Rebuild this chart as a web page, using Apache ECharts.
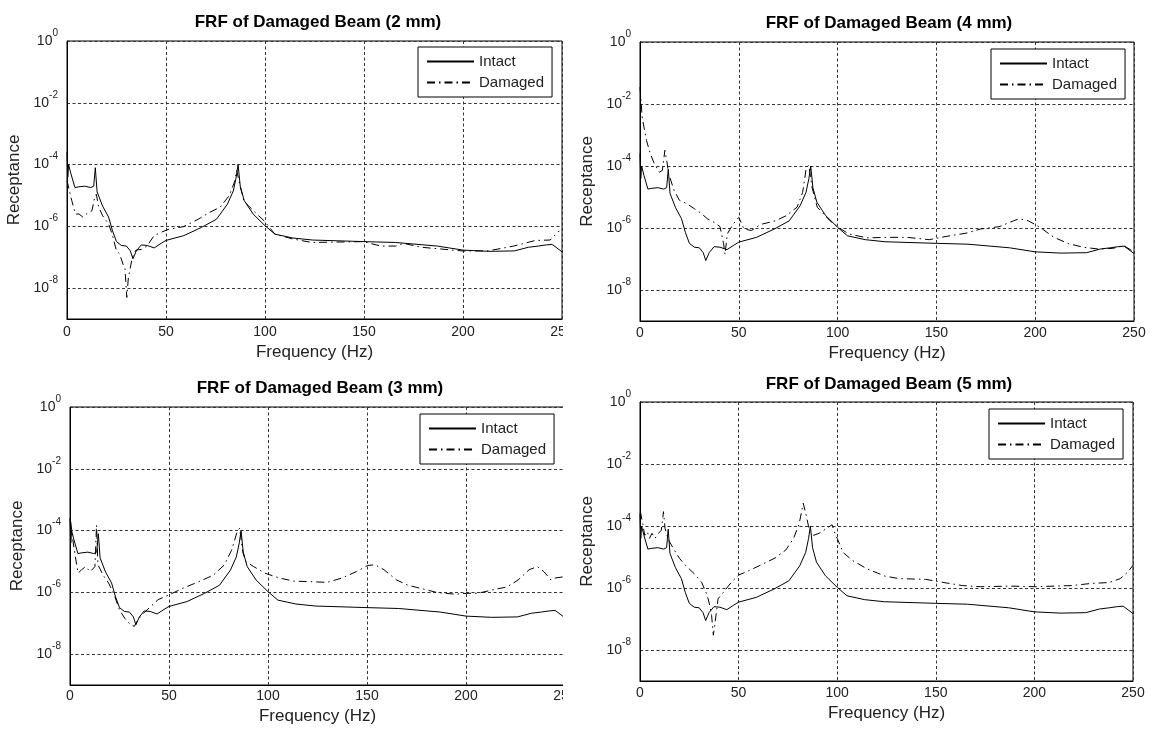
<!DOCTYPE html>
<html><head><meta charset="utf-8">
<script src="https://cdn.jsdelivr.net/npm/echarts@6/dist/echarts.min.js"></script>
<style>
html,body{margin:0;padding:0;background:#fff;width:1154px;height:731px;overflow:hidden;}
.p{position:absolute;overflow:hidden;}
</style></head><body>
<div id="c0" class="p" style="left:0;top:0;width:563px;height:365px"></div>
<div id="c1" class="p" style="left:577px;top:0;width:577px;height:365px"></div>
<div id="c2" class="p" style="left:0;top:365px;width:563px;height:366px"></div>
<div id="c3" class="p" style="left:577px;top:365px;width:577px;height:366px"></div>
<script>
// ---------- data (frequency Hz, receptance) ----------
const titles = ['FRF of Damaged Beam (2 mm)', 'FRF of Damaged Beam (4 mm)', 'FRF of Damaged Beam (3 mm)', 'FRF of Damaged Beam (5 mm)'];
const seriesNames = ['Intact', 'Damaged'];

const intact = [
[0,2.5e-4],[0.4,4.0e-5],[0.8,1.0e-4],[2,5.0e-5],[4,1.8e-5],[6,1.9e-5],[9,2.0e-5],[12,1.8e-5],[13.5,2.0e-5],[14.3,7.9e-5],[15.2,1.3e-5],[18,4.5e-6],[21,2.0e-6],[23,7.1e-7],[25,3.2e-7],[27.5,2.4e-7],[30,2.3e-7],[32,1.6e-7],[33.3,8.9e-8],[35,1.6e-7],[37.5,2.5e-7],[40.5,2.4e-7],[44,2.0e-7],[47.5,2.8e-7],[50,3.5e-7],[59,5.0e-7],[68,9.3e-7],[75.5,1.7e-6],[81,5.2e-6],[84,1.4e-5],[85.5,4.0e-5],[86.4,1.0e-4],[87.5,2.0e-5],[89.5,6.8e-6],[94,2.5e-6],[100,1.05e-6],[105,5.6e-7],[114,4.2e-7],[124,3.6e-7],[150,3.2e-7],[166,3.0e-7],[187,2.3e-7],[200,1.7e-7],[213,1.55e-7],[226,1.6e-7],[233,2.1e-7],[238,2.3e-7],[242,2.5e-7],[245,2.6e-7],[250,1.5e-7]
];

const damaged2mm = [
[0,3.0e-5],[2.4,6.8e-6],[4.3,2.5e-6],[6.1,2.5e-6],[8,2.0e-6],[10.7,2.8e-6],[12.6,3.2e-6],[14,8.7e-6],[14.8,1.1e-5],[16,4.2e-6],[18,2.2e-6],[21,1.2e-6],[22.8,5.6e-7],[25,1.6e-7],[26.5,1.3e-7],[28.3,6.0e-8],[29.3,4.2e-8],[30.2,5.0e-9],[31,2.2e-8],[33,1.0e-7],[34.8,1.7e-7],[37.6,1.8e-7],[40.4,2.3e-7],[44,5.0e-7],[47.8,6.5e-7],[51.5,8.1e-7],[58.9,9.8e-7],[66.3,1.7e-6],[71.9,2.8e-6],[77.4,4.2e-6],[82,1.0e-5],[84.8,3.0e-5],[85.7,6.5e-5],[86.7,6.5e-5],[87.6,1.8e-5],[89.5,6.3e-6],[95.9,2.5e-6],[99.6,1.5e-6],[105,5.6e-7],[114,3.9e-7],[123.7,3.0e-7],[149.6,3.2e-7],[158.5,2.3e-7],[166,2.3e-7],[170,2.8e-7],[179,2.1e-7],[199.6,1.6e-7],[212.6,1.6e-7],[225.6,2.3e-7],[236.7,3.5e-7],[244,3.6e-7],[247,5.6e-7],[248.7,7.2e-7]
];

const damaged4mm = [
[0,3.5e-2],[1.1,3.8e-3],[2,1.8e-3],[3.3,6.6e-4],[5.2,2.5e-4],[7,1.3e-4],[9.8,6.3e-5],[11.3,7.2e-5],[12.6,3.2e-4],[13.6,1.4e-4],[14.5,5.6e-5],[17.3,1.6e-5],[20,7.8e-6],[23.8,6.0e-6],[27.5,4.2e-6],[31.2,2.9e-6],[34,2.0e-6],[37.7,1.5e-6],[40.5,1.1e-6],[42.3,3.1e-7],[43,1.4e-7],[44.2,6.5e-7],[47,1.3e-6],[50,2.2e-6],[52.6,9.3e-7],[56.4,8.3e-7],[61,1.3e-6],[68.5,1.7e-6],[74,2.5e-6],[79.5,4.7e-6],[82.3,1.4e-5],[84.2,9.1e-5],[85.5,1.05e-4],[87,2.1e-5],[89.7,4.7e-6],[96.2,1.7e-6],[100,1.1e-6],[105.5,6.5e-7],[114.8,4.8e-7],[126,5.0e-7],[135,5.0e-7],[146.4,4.2e-7],[153.8,5.2e-7],[165,6.8e-7],[172.4,9.3e-7],[181.7,1.1e-6],[189,1.7e-6],[192,2.0e-6],[196.5,1.7e-6],[202,1.1e-6],[209.5,5.0e-7],[217,3.1e-7],[224.4,2.4e-7],[231.8,2.1e-7],[239.2,2.2e-7],[244.8,2.7e-7],[250,1.7e-7]
];

const damaged3mm = [
[0.4,1.9e-4],[1.3,5.6e-5],[2.8,1.3e-5],[4.1,4.2e-6],[5.9,5.4e-6],[7.8,6.8e-6],[10.2,4.7e-6],[12.6,6.8e-6],[13.4,1.5e-4],[14.1,7.9e-6],[16.7,3.6e-6],[19.5,2.0e-6],[22.3,8.3e-7],[25,2.7e-7],[27.8,1.4e-7],[30.6,8.9e-8],[32.5,7.9e-8],[34.3,1.3e-7],[37.1,2.1e-7],[40.8,3.5e-7],[44.5,5.8e-7],[50,8.3e-7],[57.5,1.4e-6],[65,2.2e-6],[72.4,3.6e-6],[78,7.8e-6],[81.6,2.3e-5],[84.4,9.1e-5],[85.7,1.2e-4],[87.2,2.1e-5],[88.7,1.0e-5],[92.8,6.8e-6],[98.3,4.2e-6],[105.8,2.9e-6],[113.2,2.3e-6],[122.4,2.2e-6],[129.9,2.1e-6],[137.3,2.9e-6],[144.7,4.7e-6],[150.3,7.4e-6],[154,7.8e-6],[158.6,5.4e-6],[165,2.5e-6],[170.7,1.7e-6],[178,1.3e-6],[185.5,9.8e-7],[194.8,8.7e-7],[200.4,9.3e-7],[206,9.3e-7],[213.4,1.2e-6],[220.8,1.5e-6],[226.3,2.5e-6],[231.9,5.4e-6],[236,6.8e-6],[239.3,4.7e-6],[243,2.5e-6],[244.9,2.9e-6],[249.5,3.2e-6]
];

const damaged5mm = [
[0.2,2.9e-4],[1.5,1.1e-4],[2.4,5.0e-5],[3.7,6.5e-5],[4.8,4.0e-5],[6.1,5.8e-5],[7.6,4.0e-5],[9.3,5.8e-5],[10.8,7.2e-5],[11.9,2.9e-4],[12.7,8.3e-5],[14.5,3.5e-5],[17.3,1.7e-5],[20.1,8.9e-6],[23.8,4.8e-6],[27.5,2.9e-6],[31.3,1.5e-6],[34.1,5.8e-7],[35.4,2.7e-7],[36.3,1.3e-7],[37.2,3.0e-8],[38.3,1.0e-7],[39.6,4.5e-7],[42.4,7.4e-7],[46.2,1.5e-6],[50,2.6e-6],[55.5,3.7e-6],[61,5.4e-6],[68.5,9.3e-6],[74,1.7e-5],[77.8,3.9e-5],[80.6,1.1e-4],[82.8,5.4e-4],[84.3,2.2e-4],[86.2,5.8e-5],[88,5.0e-5],[90.8,5.8e-5],[94.6,8.3e-5],[97.4,1.1e-4],[99.2,5.0e-5],[100,4.0e-5],[103,1.4e-5],[107.6,7.8e-6],[115,4.2e-6],[124.3,2.4e-6],[131.8,2.0e-6],[144.8,1.9e-6],[154.1,1.5e-6],[163.4,1.2e-6],[172.7,1.1e-6],[187.6,1.15e-6],[200.7,1.1e-6],[210,1.15e-6],[219.3,1.2e-6],[228.6,1.4e-6],[237.9,1.5e-6],[243.5,2.0e-6],[247.2,3.2e-6],[250,5.4e-6]
];

const damagedSets = [damaged2mm, damaged4mm, damaged3mm, damaged5mm];

// ---------- layout ----------
const FONT = "'Liberation Sans', Arial, sans-serif";
const layouts = [
  {grid:{left:67, top:41, width:495, height:278}, titleX:313, titleTop:9, legend:{left:418, top:47}, yNameGap:41, xNameGap:20, xLabelMargin:6},
  {grid:{left:63, top:42, width:494, height:279}, titleX:307, titleTop:10, legend:{left:414, top:49}, yNameGap:41, xNameGap:18, xLabelMargin:5},
  {grid:{left:70, top:42, width:495, height:278}, titleX:315, titleTop:10, legend:{left:420, top:49}, yNameGap:33, xNameGap:14, xLabelMargin:4},
  {grid:{left:63, top:37, width:493, height:279}, titleX:307, titleTop:6, legend:{left:412, top:44}, yNameGap:35, xNameGap:19, xLabelMargin:5}
];

function buildOption(i) {
  const L = layouts[i];
  const gridDash = [3, 2.5];
  const gridColor = '#333';
  return {
    animation: false,
    backgroundColor: '#fff',
    title: {
      text: titles[i], left: L.titleX, top: L.titleTop, textAlign: 'center',
      textStyle: {fontFamily: FONT, fontSize: 17, fontWeight: 'bold', color: '#000'}
    },
    legend: {
      left: L.legend.left, top: L.legend.top, orient: 'vertical',
      data: seriesNames, selectedMode: false,
      itemWidth: 47, itemHeight: 14, itemGap: 6,
      padding: [7, 8, 7, 8],
      borderColor: '#000', borderWidth: 1, backgroundColor: '#fff',
      itemStyle: {color: 'rgba(0,0,0,0)', borderWidth: 0, opacity: 0},
      textStyle: {fontFamily: FONT, fontSize: 15, color: '#222'}
    },
    grid: Object.assign({show: true, borderColor: '#000', borderWidth: 1, backgroundColor: '#fff', containLabel: false, outerBoundsMode: 'none'}, L.grid),
    xAxis: {
      type: 'value', min: 0, max: 250, interval: 50,
      name: 'Frequency (Hz)', nameLocation: 'middle', nameGap: L.xNameGap,
      nameTextStyle: {fontFamily: FONT, fontSize: 17, color: '#222'},
      axisLine: {show: true, lineStyle: {color: '#000', width: 1}},
      axisTick: {show: false},
      axisLabel: {margin: L.xLabelMargin, fontFamily: FONT, fontSize: 14, color: '#222', hideOverlap: false},
      splitLine: {show: true, lineStyle: {color: gridColor, width: 1, type: gridDash}}
    },
    yAxis: {
      type: 'log', logBase: 10, min: 1e-9, max: 1, interval: 1,
      name: 'Receptance', nameLocation: 'middle', nameGap: L.yNameGap,
      nameTextStyle: {fontFamily: FONT, fontSize: 17, color: '#222'},
      axisLine: {show: true, lineStyle: {color: '#000', width: 1}},
      axisTick: {show: false},
      // grid lines only at even decades: colours cycle over the decade ticks 1e-9, 1e-8, ...
      splitLine: {show: true, lineStyle: {color: ['rgba(0,0,0,0)', gridColor], width: 1, type: gridDash}},
      axisLabel: {
        margin: 9,
        formatter: function (v) {
          const e = Math.round(Math.log10(v));
          if (e % 2 !== 0) return '';
          return '{b|10}{s|' + e + '}';
        },
        rich: {
          b: {fontFamily: FONT, fontSize: 14, color: '#222'},
          s: {fontFamily: FONT, fontSize: 10, color: '#222', padding: [0, 0, 16, 0]}
        }
      }
    },
    series: [
      {
        name: seriesNames[0], type: 'line', data: intact, symbol: 'none', clip: true,
        lineStyle: {color: '#000', width: 1}, itemStyle: {color: '#000'}, z: 3
      },
      {
        name: seriesNames[1], type: 'line', data: damagedSets[i], symbol: 'none', clip: true,
        lineStyle: {color: '#000', width: 1, type: [8, 4, 1.5, 4]}, itemStyle: {color: '#000'}, z: 3
      }
    ]
  };
}

for (let i = 0; i < 4; i++) {
  const chart = echarts.init(document.getElementById('c' + i), null, {renderer: 'canvas'});
  chart.setOption(buildOption(i));
}
</script>
</body></html>
